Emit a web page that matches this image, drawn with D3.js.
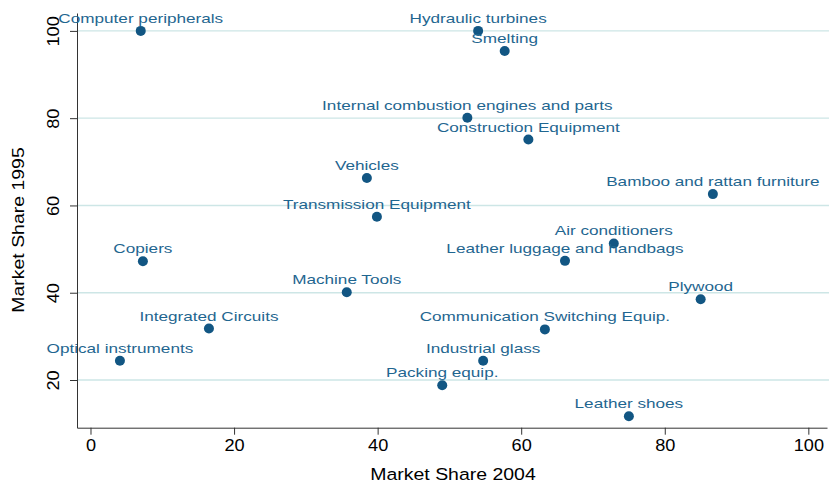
<!DOCTYPE html>
<html>
<head>
<meta charset="utf-8">
<script src="https://cdn.jsdelivr.net/npm/d3@7"></script>
<style>
  body { margin: 0; background: #fff; }
  text { font-family: "Liberation Sans", Arial, sans-serif; }
</style>
</head>
<body>
<div id="chart"></div>
<script>
// data
var industries = ["Computer peripherals", "Hydraulic turbines", "Smelting",
  "Internal combustion engines and parts", "Construction Equipment", "Vehicles",
  "Bamboo and rattan furniture", "Transmission Equipment", "Air conditioners",
  "Leather luggage and handbags", "Copiers", "Machine Tools", "Plywood",
  "Integrated Circuits", "Communication Switching Equip.", "Optical instruments",
  "Industrial glass", "Packing equip.", "Leather shoes"];
var share2004 = [7.0, 54.0, 57.7, 52.5, 61.0, 38.5, 86.7, 39.9, 72.9, 66.1,
  7.3, 35.7, 85.0, 16.5, 63.3, 4.1, 54.7, 49.0, 75.0];
var share1995 = [100.0, 100.0, 95.4, 80.1, 75.1, 66.3, 62.6, 57.4, 51.3, 47.3,
  47.2, 40.1, 38.5, 31.8, 31.6, 24.4, 24.4, 18.8, 11.7];
var xTicks = [0, 20, 40, 60, 80, 100];
var yTicks = [20, 40, 60, 80, 100];

var W = 829, H = 483;
var svg = d3.select("#chart").append("svg")
  .attr("width", W).attr("height", H);

var x = d3.scaleLinear().domain([-1.88, 102.6]).range([77, 827]);
var y = d3.scaleLinear().domain([9.07, 104.1]).range([427.7, 13]);

// grid lines
svg.append("g").selectAll("line")
  .data(yTicks)
  .enter().append("line")
    .attr("x1", x(-1.88)).attr("x2", W)
    .attr("y1", d => y(d)).attr("y2", d => y(d))
    .attr("stroke", "#cde6e6").attr("stroke-width", 1.4);

// axes
var xAxis = svg.append("g")
  .attr("transform", "translate(0," + y(9.07) + ")")
  .call(d3.axisBottom(x).tickValues(xTicks).tickSize(7).tickPadding(5).tickSizeOuter(0));
xAxis.selectAll("text")
  .style("font-size", "16.5px").attr("fill", "#000")
  .attr("transform", "scale(1.1,1)")
  .attr("x", function(d) { return 0; });

var yAxis = svg.append("g")
  .attr("transform", "translate(" + x(-1.88) + ",0)")
  .call(d3.axisLeft(y).tickValues(yTicks).tickSize(7).tickSizeOuter(0));
yAxis.selectAll("text")
  .style("font-size", "16.5px").attr("fill", "#000")
  .attr("text-anchor", "middle")
  .attr("x", 0).attr("dy", 0)
  .attr("transform", "translate(-18,0) rotate(-90) scale(1.1,1)");
svg.selectAll(".domain").attr("stroke", "#333");
svg.selectAll(".tick line").attr("stroke", "#333");

// axis titles
svg.append("text")
  .attr("transform", "translate(453,480) scale(1.18,1)")
  .attr("text-anchor", "middle")
  .style("font-size", "16.5px")
  .text("Market Share 2004");
svg.append("text")
  .attr("transform", "translate(24,230) rotate(-90) scale(1.18,1)")
  .attr("text-anchor", "middle")
  .style("font-size", "16.5px")
  .text("Market Share 1995");

// points + labels
var pts = industries.map((n, i) => ({name: n, x: share2004[i], y: share1995[i]}));

svg.append("g").selectAll("circle")
  .data(pts)
  .enter().append("circle")
    .attr("cx", d => x(d.x))
    .attr("cy", d => y(d.y))
    .attr("r", 5)
    .attr("fill", "#125683");

svg.append("g").selectAll("text")
  .data(pts)
  .enter().append("text")
    .attr("transform", d => "translate(" + x(d.x) + "," + (y(d.y) - 8) + ") scale(1.27,1)")
    .attr("text-anchor", "middle")
    .style("font-size", "13.5px")
    .attr("fill", "#1f6690")
    .text(d => d.name);
</script>
</body>
</html>
